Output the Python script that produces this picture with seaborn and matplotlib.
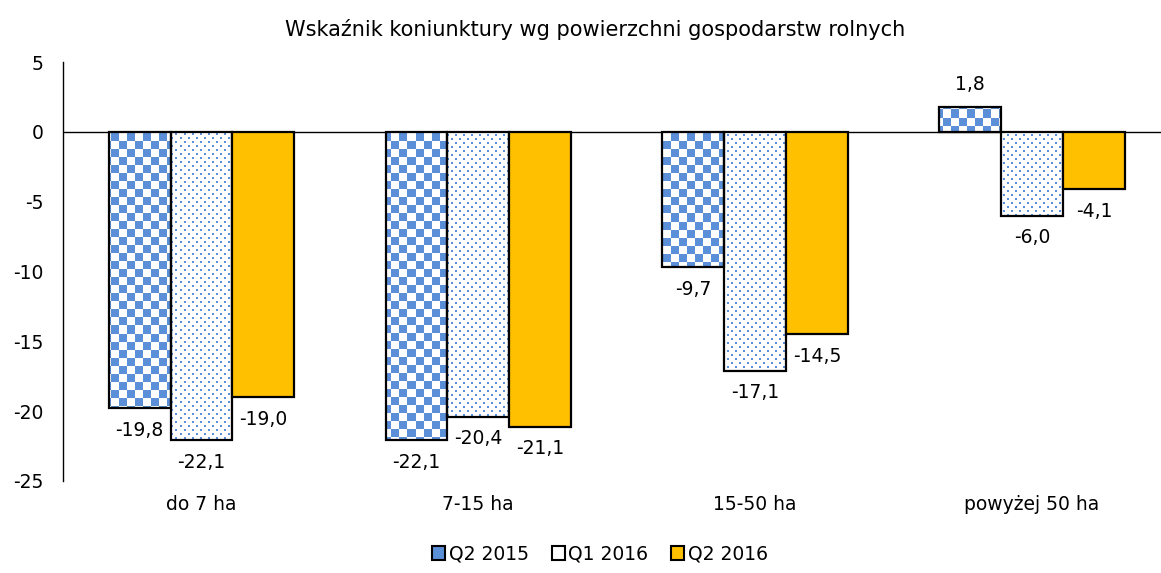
import numpy as np
import pandas as pd
import matplotlib
matplotlib.use("Agg")
import matplotlib.pyplot as plt
from matplotlib.colors import ListedColormap
from matplotlib.patches import Patch
import seaborn as sns

# Data
categories = ["do 7 ha", "7-15 ha", "15-50 ha", "powyżej 50 ha"]
series = ["Q2 2015", "Q1 2016", "Q2 2016"]
q2_2015 = [-19.8, -22.1, -9.7, 1.8]
q1_2016 = [-22.1, -20.4, -17.1, -6.0]
q2_2016 = [-19.0, -21.1, -14.5, -4.1]

blue = "#5B8FD8"
orange = "#FFC000"

df = pd.DataFrame({
    "kategoria": categories * 3,
    "okres": [s for s in series for _ in categories],
    "wartosc": q2_2015 + q1_2016 + q2_2016,
})

sns.set_style("white")
plt.rcParams["font.family"] = ["DejaVu Sans"]
plt.rcParams["axes.unicode_minus"] = False
plt.rcParams["text.color"] = "black"
plt.rcParams["xtick.color"] = "black"
plt.rcParams["ytick.color"] = "black"

fig = plt.figure(figsize=(11.61, 5.73), dpi=100)
ax_pos = [63 / 1161, 1 - 481 / 573, (1161 - 63) / 1161, (481 - 62) / 573]
ax = fig.add_axes(ax_pos)

sns.barplot(data=df, x="kategoria", y="wartosc", hue="okres", order=categories,
            hue_order=series, palette=["white", "white", orange], saturation=1,
            width=0.67, gap=0, edgecolor="black", linewidth=1.6, legend=False,
            ax=ax, zorder=3)

# pattern textures, one pixel per screen pixel
W = int(round(1161 * ax_pos[2]))
H = int(round(573 * ax_pos[3]))
yy, xx = np.indices((H, W))
checker = ((xx // 8 + yy // 8) % 2).astype(float)
row = yy // 4
dots = (((yy % 4) < 2) & (((xx + (row % 2) * 4) % 8) < 2)).astype(float)

cmap = ListedColormap(["white", blue])
for container, tex in zip(ax.containers[:2], [checker, dots]):
    for bar in container:
        bar.set_facecolor("none")
        im = ax.imshow(tex, extent=[0, 1, 0, 1], transform=ax.transAxes, cmap=cmap,
                       vmin=0, vmax=1, interpolation="nearest", aspect="auto", zorder=2)
        im.set_clip_path(bar)

ax.set_xlim(-0.5, 3.5 - 9.5 / 277)
ax.set_ylim(-25, 5)
ax.set_yticks(range(-25, 6, 5))
ax.axhline(0, color="black", linewidth=1, zorder=1)

# value labels (Polish decimal comma)
for container in ax.containers:
    for bar in container:
        v = bar.get_height()
        x = bar.get_x() + bar.get_width() / 2
        off = 16 if v > 0 else -16
        ax.annotate(f"{v:.1f}".replace(".", ","), (x, v), xytext=(0, off),
                    textcoords="offset points", ha="center", va="center",
                    fontsize=13.5, color="black")

for s in ["top", "right", "bottom"]:
    ax.spines[s].set_visible(False)
ax.spines["left"].set_color("black")
ax.spines["left"].set_linewidth(1)
ax.tick_params(axis="y", length=0, pad=14, labelsize=13.5)
ax.tick_params(axis="x", length=0, pad=10, labelsize=13.5)
ax.set_xlabel("")
ax.set_ylabel("")

fig.text(595 / 1161, 1 - 30 / 573, "Wskaźnik koniunktury wg powierzchni gospodarstw rolnych",
         ha="center", va="center", fontsize=15, color="black")

handles = [
    Patch(facecolor=blue, edgecolor="black", linewidth=1.5),
    Patch(facecolor="white", edgecolor="black", linewidth=1.5),
    Patch(facecolor=orange, edgecolor="black", linewidth=1.5),
]
fig.legend(handles, series, loc="center", bbox_to_anchor=(600 / 1161, 1 - 554 / 573),
           ncol=3, frameon=False, fontsize=13.5, handlelength=0.7, handleheight=0.7,
           handletextpad=0.2, columnspacing=1.2)

fig.savefig("out.png", dpi=100)
